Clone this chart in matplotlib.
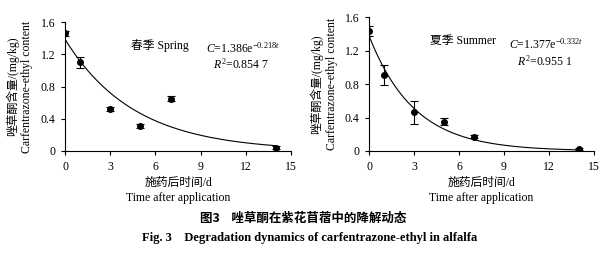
import numpy as np
import matplotlib
matplotlib.use('Agg')
import matplotlib.pyplot as plt

plt.rcParams['font.family'] = ['Liberation Serif', 'Noto Sans CJK SC']
plt.rcParams['mathtext.fontset'] = 'custom'
plt.rcParams['mathtext.rm'] = 'Liberation Serif'
plt.rcParams['mathtext.it'] = 'Liberation Serif:italic'

# 数据
days = [0, 1, 3, 5, 7, 14]
spring = [1.46, 1.10, 0.52, 0.31, 0.65, 0.04]
spring_err = [0.03, 0.07, 0.02, 0.02, 0.03, 0.02]
summer = [1.43, 0.91, 0.46, 0.35, 0.17, 0.02]
summer_err = [0.06, 0.12, 0.14, 0.04, 0.02, 0.01]

# 拟合参数 C = a*exp(-k*t)
fit_spring = (1.386, 0.218)
fit_summer = (1.377, 0.332)

xticks = [0, 3, 6, 9, 12, 15]
yticks = [0, 0.4, 0.8, 1.2, 1.6]
ytick_labels = ['0', '0.4', '0.8', '1.2', '1.6']

fig = plt.figure(figsize=(6.11, 2.59), dpi=100)
ax1 = fig.add_axes([0.1064, 0.417, 0.370, 0.498])
ax2 = fig.add_axes([0.604, 0.417, 0.368, 0.517])

panels = [
    (ax1, spring, spring_err, fit_spring, '春季 Spring', '0.854 7'),
    (ax2, summer, summer_err, fit_summer, '夏季 Summer', '0.955 1'),
]

for ax, y, yerr, fit, title, r2 in panels:
    t = np.linspace(0, 14, 200)
    ax.plot(t, fit[0] * np.exp(-fit[1] * t), color='black', lw=0.8)
    ax.errorbar(days, y, yerr=yerr, fmt='o', color='black', ms=4,
                elinewidth=0.8, capsize=3, capthick=0.8)
    ax.set_xlim(0, 15)
    ax.set_ylim(0, 1.6)
    ax.set_xticks(xticks)
    ax.set_yticks(yticks)
    ax.set_yticklabels(ytick_labels)
    ax.spines['top'].set_visible(False)
    ax.spines['right'].set_visible(False)
    ax.tick_params(labelsize=8.5, direction='out', length=3, width=0.8, pad=4)
    ax.text(6.3, 1.31, title, fontsize=8.5, ha='center', va='center')
    ax.text(11.8, 1.27, r'$C$=%.3fe$^{\mathrm{-}%.3f\mathit{t}}$' % fit,
            fontsize=8.5, ha='center', va='center')
    ax.text(11.7, 1.07, r'$R^2$=' + r2, fontsize=8.5, ha='center', va='center')
    ax.set_xlabel('施药后时间/d\nTime after application', fontsize=8.5,
                  linespacing=1.3, labelpad=3)
    ax.set_ylabel('唑草酮含量/(mg/kg)\nCarfentrazone-ethyl content', fontsize=8.5,
                  linespacing=1.3, labelpad=5)

fig.text(0.497, 0.158, '图3    唑草酮在紫花苜蓿中的降解动态', fontsize=9,
         fontweight='bold', ha='center', va='center',
         family=['Noto Sans CJK SC'])
fig.text(0.507, 0.08, 'Fig. 3    Degradation dynamics of carfentrazone-ethyl in alfalfa',
         fontsize=9, fontweight='bold', ha='center', va='center')

fig.savefig('out.png', dpi=100)
